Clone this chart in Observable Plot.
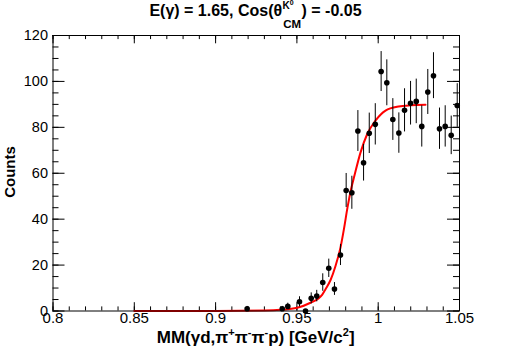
<!DOCTYPE html>
<html><head><meta charset="utf-8">
<script src="https://cdn.jsdelivr.net/npm/d3@7"></script>
<script src="https://cdn.jsdelivr.net/npm/@observablehq/plot@0.6"></script>
<style>html,body{margin:0;padding:0;background:#fff;} svg{display:block}</style>
</head><body><div id="chart"></div>
<script>
// ---- data ----
const massX = [0.9194, 0.9410, 0.9444, 0.9516, 0.9553, 0.9588, 0.9622, 0.9659, 0.9696, 0.9731, 0.9768, 0.9803, 0.9838, 0.9875, 0.9910, 0.9945, 0.9982, 1.0018, 1.0053, 1.0090, 1.0127, 1.0162, 1.0199, 1.0234, 1.0268, 1.0305, 1.0340, 1.0377, 1.0412, 1.0449, 1.0486];
const counts = [1, 1, 2, 4, 0, 5.5, 6.5, 12.4, 18.6, 9.6, 24.4, 52.5, 51.5, 78.4, 64.6, 77.4, 81.3, 104.3, 99.4, 83.4, 77.5, 87.4, 90.5, 91.3, 80.4, 95.4, 102.5, 79.4, 80.4, 76.5, 89.5];
const errors = [1, 1, 1.4, 2.2, 0, 2.4, 2.5, 3.8, 4, 2.8, 4.6, 7.4, 7.2, 8.9, 8, 8.8, 9, 8.7, 10, 9.1, 8.8, 9.4, 9.5, 9.7, 9, 9.8, 10, 9, 9, 8.4, 9.5];

const fitX = [0.85, 0.90, 0.9301, 0.9399, 0.9502, 0.9584, 0.9633, 0.9655, 0.9676, 0.9707, 0.9737, 0.9768, 0.9790, 0.9811, 0.9833, 0.9854, 0.9891, 0.9932, 0.9983, 1.0045, 1.0125, 1.0199, 1.0291];
const fitY = [0, 0.02, 0.2, 0.5, 1.4, 3.6, 5.5, 7, 9.5, 13.5, 19.5, 27.6, 36, 45, 53, 59, 69, 77, 82.9, 87.3, 89.1, 89.6, 89.8];

const xMajor = [0.8, 0.85, 0.9, 0.95, 1.0, 1.05];
const xTickLabels = ["0.8", "0.85", "0.9", "0.95", "1", "1.05"];
const yMajor = [0, 20, 40, 60, 80, 100, 120];
const yTickLabels = ["0", "20", "40", "60", "80", "100", "120"];
const xMinor = d3.range(0, 26).map(i => 0.8 + i * 0.01);
const yMinor = d3.range(0, 25).map(i => i * 5);

const titleStart = "E(γ) = 1.65, Cos(θ";
const titleSup = "K";
const titleSupSup = "0";
const titleSub = "CM";
const titleEnd = ") = -0.05";
const yTitle = "Counts";

// ---- layout ----
const W = 511, H = 346, mL = 52.5, mR = 52, mT = 35, mB = 35.5;
const fh = H - mT - mB, fw = W - mL - mR;
const font = "'Liberation Sans', Arial, Helvetica, sans-serif";

const points = massX.map((x, i) => ({x, y: counts[i], e: errors[i]}));
const fit = fitX.map((x, i) => ({x, y: fitY[i]}));

const plot = Plot.plot({
  width: W, height: H,
  marginLeft: mL, marginRight: mR, marginTop: mT, marginBottom: mB,
  x: {domain: [0.8, 1.05], axis: null},
  y: {domain: [0, 120], axis: null},
  style: {fontFamily: font, background: "white", color: "black"},
  marks: [
    Plot.tickX(xMinor, {x: d => d, insetTop: fh - 4.1, stroke: "black"}),
    Plot.tickX(xMajor, {x: d => d, insetTop: fh - 8.3, stroke: "black"}),
    Plot.tickX(xMinor, {x: d => d, insetBottom: fh - 4.1, stroke: "black"}),
    Plot.tickX(xMajor, {x: d => d, insetBottom: fh - 8.3, stroke: "black"}),
    Plot.tickY(yMinor, {y: d => d, insetRight: fw - 6, stroke: "black"}),
    Plot.tickY(yMajor, {y: d => d, insetRight: fw - 12, stroke: "black"}),
    Plot.tickY(yMinor, {y: d => d, insetLeft: fw - 6, stroke: "black"}),
    Plot.tickY(yMajor, {y: d => d, insetLeft: fw - 12, stroke: "black"}),
    Plot.text(xMajor, {x: d => d, text: (d, i) => xTickLabels[i], frameAnchor: "bottom", dy: 12, fontSize: 15, fill: "black"}),
    Plot.text(yMajor, {y: d => d, text: (d, i) => yTickLabels[i], frameAnchor: "left", textAnchor: "end", dx: -5, fontSize: 14.5, fill: "black"}),
    Plot.line(fit, {x: "x", y: "y", stroke: "#ff0000", strokeWidth: 2, curve: "monotone-x"}),
    Plot.ruleX(points, {x: "x", y1: d => d.y - d.e, y2: d => d.y + d.e, stroke: "black", strokeWidth: 1}),
    Plot.dot(points, {x: "x", y: "y", r: 2.8, fill: "black", stroke: null}),
    Plot.frame({stroke: "black", strokeWidth: 1})
  ]
});

document.getElementById("chart").append(plot);
const svg = d3.select(plot);

// title (single text chunk with stacked super/subscript)
const tt = svg.append("text").attr("x", 255.5).attr("y", 16).attr("text-anchor", "middle")
  .attr("font-family", font).attr("font-weight", "bold").attr("font-size", 16).attr("fill", "black");
tt.append("tspan").text(titleStart);
tt.append("tspan").attr("dx", 0.5).attr("dy", -7.5).attr("font-size", 10).text(titleSup);
tt.append("tspan").attr("dy", -3.5).attr("font-size", 7).text(titleSupSup);
tt.append("tspan").attr("dx", -10.6).attr("dy", 23).attr("font-size", 11.5).text(titleSub);
tt.append("tspan").attr("dx", 0.5).attr("dy", -12).attr("font-size", 16).text(titleEnd);

// x axis title
const xt = svg.append("text").attr("x", 255.7).attr("y", 343).attr("text-anchor", "middle")
  .attr("font-family", font).attr("font-weight", "bold").attr("font-size", 17).attr("fill", "black");
const parts = [["MM(γd,π", 0], ["+", 1], ["π", 0], ["-", 1], ["π", 0], ["-", 1], ["p) [GeV/c", 0], ["2", 1], ["]", 0]];
let prevSup = 0;
for (const [s, sup] of parts) {
  const ts = xt.append("tspan").text(s);
  if (sup) ts.attr("font-size", 11);
  if (sup && !prevSup) ts.attr("dy", -7);
  else if (!sup && prevSup) ts.attr("dy", 7);
  prevSup = sup;
}

// y axis title
svg.append("text").attr("transform", "translate(15,172) rotate(-90)").attr("text-anchor", "middle")
  .attr("font-family", font).attr("font-weight", "bold").attr("font-size", 15).attr("fill", "black").text(yTitle);
</script></body></html>
